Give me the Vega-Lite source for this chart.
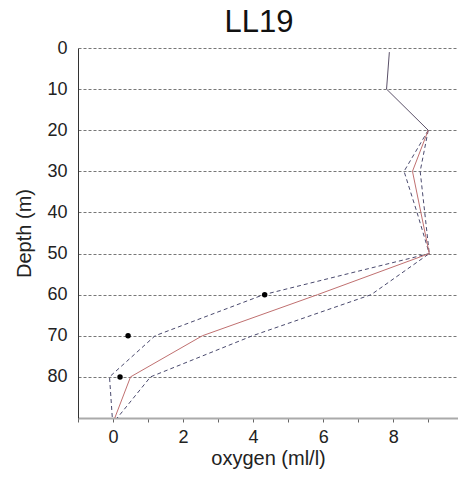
{
  "$schema": "https://vega.github.io/schema/vega-lite/v6.json",
  "width": 380,
  "height": 370,
  "autosize": "none",
  "padding": {"left": 78, "top": 48, "right": 0, "bottom": 59},
  "background": "white",
  "title": {"text": "LL19", "fontSize": 31, "font": "Liberation Sans", "fontWeight": "normal", "color": "#111", "anchor": "middle", "frame": "group", "dx": -9, "offset": 0, "dy": 0},
  "config": {"view": {"stroke": null}, "font": "Liberation Sans"},
  "datasets": {
    "lines": [
      {"s": "top", "depth": 1, "ox": 7.89},
      {"s": "top", "depth": 10, "ox": 7.81},
      {"s": "top", "depth": 20, "ox": 9.0},
      {"s": "mean", "depth": 20, "ox": 9.0},
      {"s": "mean", "depth": 30, "ox": 8.55},
      {"s": "mean", "depth": 40, "ox": 8.79},
      {"s": "mean", "depth": 50, "ox": 9.03},
      {"s": "mean", "depth": 60, "ox": 5.84},
      {"s": "mean", "depth": 70, "ox": 2.55},
      {"s": "mean", "depth": 80, "ox": 0.5},
      {"s": "mean", "depth": 90, "ox": 0.05},
      {"s": "lo", "depth": 20, "ox": 9.0},
      {"s": "lo", "depth": 30, "ox": 8.31},
      {"s": "lo", "depth": 40, "ox": 8.68},
      {"s": "lo", "depth": 50, "ox": 9.03},
      {"s": "lo", "depth": 60, "ox": 4.3},
      {"s": "lo", "depth": 70, "ox": 1.2},
      {"s": "lo", "depth": 80, "ox": -0.1},
      {"s": "lo", "depth": 90, "ox": -0.02},
      {"s": "hi", "depth": 20, "ox": 9.0},
      {"s": "hi", "depth": 30, "ox": 8.77},
      {"s": "hi", "depth": 40, "ox": 8.9},
      {"s": "hi", "depth": 50, "ox": 9.03},
      {"s": "hi", "depth": 60, "ox": 7.37},
      {"s": "hi", "depth": 70, "ox": 3.98},
      {"s": "hi", "depth": 80, "ox": 1.07},
      {"s": "hi", "depth": 90, "ox": 0.12}
    ],
    "obs": [
      {"depth": 60, "ox": 4.33},
      {"depth": 70, "ox": 0.43},
      {"depth": 80, "ox": 0.2}
    ]
  },
  "encoding": {
    "x": {"field": "ox", "type": "quantitative",
      "scale": {"domain": [-1, 9.85], "nice": false, "zero": false},
      "axis": {"title": "oxygen (ml/l)", "values": [-1,0,1,2,3,4,5,6,7,8,9],
        "labelExpr": "datum.value % 2 == 0 ? datum.label : ''",
        "grid": false, "domainColor": "#aaaaaa", "domainWidth": 2, "tickColor": "#666", "tickSize": 4,
        "labelFontSize": 18, "labelColor": "#222", "labelPadding": 6, "labelFont": "Liberation Sans",
        "titleFontSize": 20, "titleFontWeight": "normal", "titleColor": "#222", "titlePadding": 2, "titleFont": "Liberation Sans"}},
    "y": {"field": "depth", "type": "quantitative",
      "scale": {"domain": [0, 90], "reverse": true, "nice": false},
      "axis": {"title": "Depth (m)", "values": [0,10,20,30,40,50,60,70,80],
        "grid": true, "gridDash": [3, 2], "gridColor": "#777", "gridWidth": 1,
        "ticks": false, "domainColor": "#333", "domainWidth": 1,
        "labelFontSize": 18, "labelColor": "#222", "labelPadding": 11, "labelFont": "Liberation Sans",
        "titleFontSize": 20, "titleFontWeight": "normal", "titleColor": "#222", "titlePadding": 12, "titleFont": "Liberation Sans"}}
  },
  "layer": [
    {"data": {"name": "lines"}, "transform": [{"filter": "datum.s == 'lo' || datum.s == 'hi'"}],
      "mark": {"type": "line", "color": "#4a4a6e", "strokeWidth": 1, "strokeDash": [4, 3]},
      "encoding": {"detail": {"field": "s"}, "order": {"field": "depth"}}},
    {"data": {"name": "lines"}, "transform": [{"filter": "datum.s == 'mean'"}],
      "mark": {"type": "line", "color": "#c07070", "strokeWidth": 1},
      "encoding": {"order": {"field": "depth"}}},
    {"data": {"name": "lines"}, "transform": [{"filter": "datum.s == 'top'"}],
      "mark": {"type": "line", "color": "#5a5068", "strokeWidth": 1},
      "encoding": {"order": {"field": "depth"}}},
    {"data": {"name": "obs"},
      "mark": {"type": "point", "filled": true, "color": "black", "size": 30, "opacity": 1}}
  ]
}
